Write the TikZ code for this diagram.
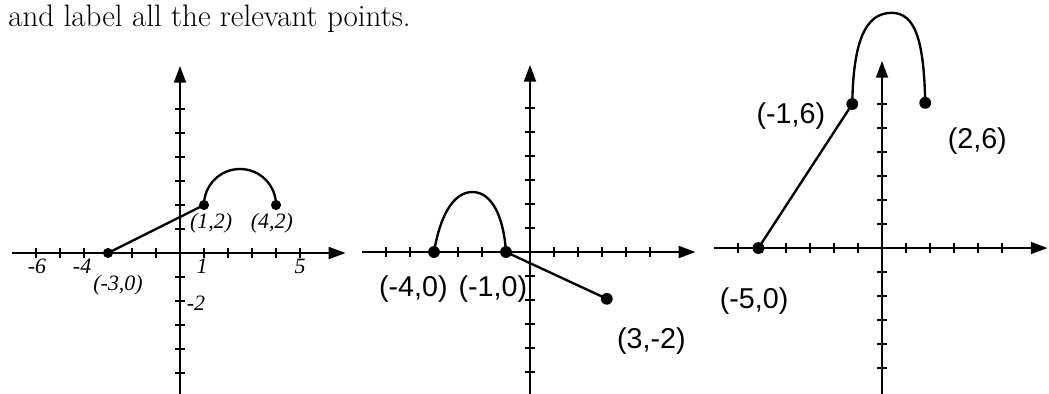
\documentclass[tikz,border=0pt]{standalone}
\usepackage{fontspec}
\newfontfamily\printfont{Liberation Serif}
\newfontfamily\handfont{Liberation Sans}
\usetikzlibrary{arrows.meta}
\tikzset{
    axisline/.style={line width=1.4pt, -{Triangle[length=10pt, width=7pt]}},
    tickmark/.style={line width=1.4pt},
    curve/.style={line width=1.4pt, line cap=round},
    ptdot/.style={circle, fill, inner sep=0pt, minimum size=6pt},
    printlbl/.style={font=\printfont\itshape\fontsize{13}{15}\selectfont, inner sep=1pt},
    handlbl/.style={font=\handfont\fontsize{17}{19}\selectfont, inner sep=1pt},
}
\newcommand{\plotaxes}{%
    \draw[axisline] (-7,0) -- (6.9,0);
    \draw[axisline] (0,-6.5) -- (0,7.8);
    \foreach \t in {-6,...,-1,1,2,...,5} \draw[tickmark] (\t,-0.2) -- (\t,0.2);
    \foreach \t in {-5,...,-1,1,2,...,6} \draw[tickmark] (-0.22,\t) -- (0.22,\t);
}

\begin{document}
\begin{tikzpicture}[x=0.5cm, y=0.5cm]
    \useasboundingbox (0,0) rectangle (43.708,16.375);
    \node[anchor=base west, inner sep=0pt, font=\fontsize{18.4}{22}\selectfont] (intro) at (0.33,15.29)
        {and label all the relevant points.};

    \begin{scope}[shift={(7.5,5.833)}]
        \plotaxes
        \coordinate (a1) at (-3,0);
        \coordinate (a2) at (1,2);
        \coordinate (a3) at (4,2);
        \draw[curve] (a1) -- (a2) arc[start angle=180, end angle=0, radius=1.5];
        \foreach \p in {a1,a2,a3} \node[ptdot] at (\p) {};
        \node[printlbl] (a2lbl) at (1.3,1.25) {(1,2)};
        \node[printlbl] (a3lbl) at (3.83,1.25) {(4,2)};
        \node[printlbl] (a1lbl) at (-2.58,-1.33) {(-3,0)};
        \node[printlbl] (xm6) at (-5.96,-0.55) {-6};
        \node[printlbl] (xm4) at (-4.08,-0.55) {-4};
        \node[printlbl] (xp1) at (0.92,-0.55) {1};
        \node[printlbl] (xp5) at (5,-0.55) {5};
        \node[printlbl, anchor=west] (ym2) at (0.2,-2.1) {-2};
    \end{scope}

    \begin{scope}[shift={(22.083,5.875)}]
        \plotaxes
        \coordinate (b1) at (-4,0);
        \coordinate (b2) at (-1,0);
        \coordinate (b3) at (3.2,-1.95);
        \draw[curve] (b1) .. controls (-3.75,1.5) and (-3.2,2.5) .. (-2.4,2.5)
            .. controls (-1.6,2.5) and (-1.1,1.5) .. (b2) -- (b3);
        \foreach \p in {b1,b2,b3} \node[ptdot, minimum size=7pt] at (\p) {};
        \node[handlbl] (b1lbl) at (-4.86,-1.56) {(-4,0)};
        \node[handlbl] (b2lbl) at (-1.55,-1.56) {(-1,0)};
        \node[handlbl] (b3lbl) at (5.06,-3.7) {(3,-2)};
    \end{scope}

    \begin{scope}[shift={(36.75,6.04)}]
        \plotaxes
        \coordinate (c1) at (-5.15,0);
        \coordinate (c2) at (-1.24,6);
        \coordinate (c3) at (1.8,6.05);
        \draw[curve] (c1) -- (c2) .. controls (-1.2,8.6) and (-0.7,9.8) .. (0.4,9.8)
            .. controls (1.4,9.8) and (1.75,8.6) .. (c3);
        \foreach \p in {c1,c2,c3} \node[ptdot, minimum size=7pt] at (\p) {};
        \node[handlbl] (c2lbl) at (-3.8,5.5) {(-1,6)};
        \node[handlbl] (c3lbl) at (3.97,4.46) {(2,6)};
        \node[handlbl] (c1lbl) at (-5.33,-2.23) {(-5,0)};
    \end{scope}
\end{tikzpicture}
\end{document}
